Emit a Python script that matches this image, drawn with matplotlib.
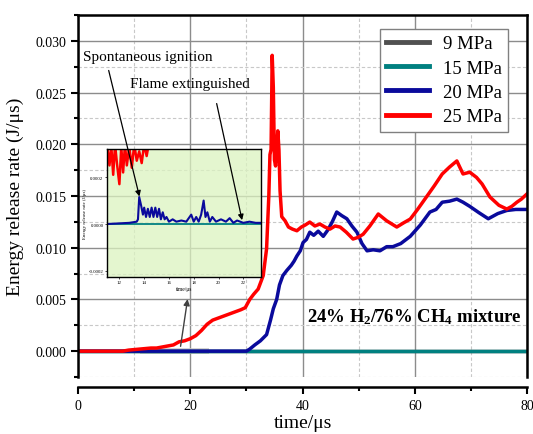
import matplotlib
matplotlib.use("Agg")
import matplotlib.pyplot as plt
from matplotlib.patches import Rectangle
from matplotlib.ticker import MultipleLocator

plt.rcParams['font.family'] = ['Liberation Serif', 'DejaVu Serif']
plt.rcParams['mathtext.fontset'] = 'custom'
plt.rcParams['mathtext.rm'] = 'Liberation Serif'
plt.rcParams['mathtext.bf'] = 'Liberation Serif:bold'
plt.rcParams['mathtext.it'] = 'Liberation Serif:italic'

# ---------------- data ----------------
labels = ['9 MPa', '15 MPa', '20 MPa', '25 MPa']
colors = ['#505050', '#008080', '#0a0a9c', '#ff0000']

x_9 = [0, 80]
y_9 = [0, 0]
x_15 = [0, 80]
y_15 = [0, 0]

x_20 = [0, 9, 30, 30.6, 31.5, 32.5, 33.6, 34.3, 34.8, 35.4, 35.9, 36.5, 37.2, 38, 38.5, 39,
        39.6, 40.1, 40.7, 41.3, 42, 42.8, 43.7, 44.5, 45.3, 46.1, 47, 47.9, 48.8, 49.7, 50.6,
        51.5, 52.6, 53.8, 55, 56.1, 57.5, 59.2, 61, 62.7, 63.8, 64.9, 66.2, 67.5, 68.6, 69.8,
        71.4, 73.1, 74.8, 76.4, 78, 79.3, 80]
y_20 = [0, 0, 0, 0.0002, 0.0006, 0.0010, 0.0016, 0.0030, 0.0041, 0.0050, 0.0064, 0.0073, 0.0078,
        0.0083, 0.0087, 0.0092, 0.0097, 0.0105, 0.0108, 0.0115, 0.0112, 0.0116, 0.0111, 0.0117,
        0.0125, 0.01345, 0.0131, 0.0128, 0.0121, 0.0115, 0.0104, 0.0097, 0.0098, 0.0097, 0.0101,
        0.0101, 0.0104, 0.0111, 0.0122, 0.01345, 0.0137, 0.0144, 0.0145, 0.0147, 0.0144, 0.0140,
        0.0134, 0.0128, 0.0133, 0.0136, 0.0137, 0.0137, 0.0137]

x_25 = [0, 8, 8.5, 9, 10, 11, 12, 13, 14, 15, 16, 17, 18, 19, 20, 21, 22, 23, 24, 25, 26, 27,
        28, 29, 29.8, 30.6, 31.3, 32.1, 33, 33.6, 34.0, 34.2, 34.4, 34.6, 34.8, 35.0, 35.2,
        35.4, 35.6, 35.8, 36.0, 36.3, 36.9, 37.5, 38.2, 39.0, 39.8, 40.5, 41.3, 42.2, 43.1,
        44, 44.9, 45.8, 46.7, 47.8, 49.0, 49.9, 50.8, 52, 53.5, 55, 56.8, 58, 59.2, 60.5, 62.2,
        63.5, 64.9, 66.2, 67.5, 68.6, 69.8, 71, 72, 73.4, 75, 76.4, 77.3, 78.2, 79, 80]
y_25 = [0, 0, 0.00005, 0.0001, 0.00015, 0.0002, 0.00025, 0.0003, 0.0003, 0.0004, 0.0005,
        0.0006, 0.0009, 0.001, 0.0012, 0.0015, 0.002, 0.0026, 0.003, 0.0032, 0.0034, 0.0036,
        0.0038, 0.004, 0.0042, 0.005, 0.0055, 0.006, 0.0073, 0.0099, 0.015, 0.019, 0.0195,
        0.0286, 0.0255, 0.0185, 0.0179, 0.0195, 0.0213, 0.0195, 0.0155, 0.0130, 0.0126, 0.0120,
        0.0118, 0.01164, 0.0120, 0.0122, 0.01248, 0.0121, 0.01229, 0.0120, 0.0118, 0.0121,
        0.0120, 0.0115, 0.01084, 0.0110, 0.0113, 0.0121, 0.01326, 0.0126, 0.0120, 0.0124,
        0.01277, 0.0137, 0.0150, 0.0160, 0.01713, 0.0178, 0.01839, 0.01713, 0.0173, 0.0168,
        0.01616, 0.0149, 0.0141, 0.01374, 0.0140, 0.0144, 0.0147, 0.0152]

# inset (zoom of 11-23.4 us)
xi_20 = [11.0, 12.8, 13.4, 13.5, 13.6, 13.75, 13.9, 14.0, 14.15, 14.3, 14.45, 14.6, 14.75, 14.9,
         15.05, 15.2, 15.35, 15.5, 15.65, 15.8, 16.0, 16.3, 16.6, 17.0, 17.4, 17.8, 18.0, 18.2,
         18.4, 18.6, 18.8, 18.95, 19.1, 19.3, 19.5, 19.8, 20.2, 20.6, 20.9, 21.2, 21.5, 22,
         22.5, 23, 23.4]
yi_20 = [0, 0.000005, 0.00001, 0.00002, 0.000115, 0.00008, 0.00004, 0.00007, 0.00003, 0.000065,
         0.00003, 0.00007, 0.00003, 0.00007, 0.00003, 0.000065, 0.00002, 0.00005, 0.00002,
         0.00003, 0.00001, 0.00002, 0.00001, 0.000015, 0.00001, 0.00004, 0.00001, 0.00003,
         0.00001, 0.00004, 0.0001, 0.00003, 0.00005, 0.00001, 0.00003, 0.00001, 0.00002,
         0.00001, 0.000025, 0.000005, 0.000015, 0.000005, 0.00001, 0.000005, 0.000005]
xi_25 = [11.0, 11.2, 11.35, 11.5, 11.65, 11.8, 12.0, 12.15, 12.3, 12.45, 12.6, 12.8, 13.0, 13.2,
         13.4, 13.6, 13.8, 14.0, 14.2, 14.4, 15.0]
yi_25 = [0.00035, 0.00025, 0.00033, 0.00021, 0.00034, 0.00026, 0.00017, 0.00033, 0.00022,
         0.00034, 0.00025, 0.00033, 0.00024, 0.00034, 0.00027, 0.00031, 0.00026, 0.00034,
         0.00029, 0.00035, 0.0004]

# ---------------- figure ----------------
fig = plt.figure(figsize=(5.33, 4.35), dpi=100)
ax = fig.add_axes([78/533, 1-378/435, 449/533, 362/435])

series = [(x_9, y_9), (x_15, y_15), (x_20, y_20), (x_25, y_25)]
for (xs, ys), c, lab in zip(series, colors, labels):
    ax.plot(xs, ys, color=c, lw=2.5, label=lab, solid_joinstyle='round')

ax.set_xlim(0, 80)
ax.set_ylim(-0.0025, 0.0325)
ax.xaxis.set_major_locator(MultipleLocator(20))
ax.xaxis.set_minor_locator(MultipleLocator(10))
ax.yaxis.set_major_locator(MultipleLocator(0.005))
ax.yaxis.set_minor_locator(MultipleLocator(0.0025))
ax.yaxis.set_major_formatter(matplotlib.ticker.FormatStrFormatter('%.3f'))
ax.grid(True, which='major', color='#8c8c8c', lw=1.0, ls='-')
ax.grid(True, which='minor', color='#c8c8c8', lw=0.8, ls=(0, (3, 2)))
ax.set_axisbelow(True)
for s in ax.spines.values():
    s.set_linewidth(1.8)
ax.spines['bottom'].set_position(('outward', 7))
ax.tick_params(which='major', direction='out', length=5, width=1.5, labelsize=10)
ax.tick_params(which='minor', direction='out', length=3, width=1.5)
ax.set_xlabel('time/μs', fontsize=14, labelpad=2)
ax.set_ylabel('Energy release rate (J/μs)', fontsize=14, labelpad=8)

leg = ax.legend(loc='upper right', bbox_to_anchor=(0.958, 0.962),
                prop={'family': 'Liberation Serif', 'size': 13.5},
                frameon=True, fancybox=False, edgecolor='#808080', framealpha=1,
                handlelength=2.3, handletextpad=0.7, labelspacing=0.38, borderpad=0.35,
                borderaxespad=0)
leg.get_frame().set_linewidth(1.0)
for h in leg.get_lines():
    h.set_linewidth(3.5)

ax.text(40.8, 0.0034, r'24% H$_\mathbf{2}$/76% CH$_\mathbf{4}$ mixture', fontsize=13.5,
        fontweight='bold', va='center', ha='left')

# zoom region indicator and arrow
ax.add_patch(Rectangle((11, -0.00023), 12.4, 0.00055, facecolor='#c8c8c8', edgecolor='none',
                       alpha=0.8, zorder=1.5))
ax.annotate('', xy=(19.6, 0.0053), xytext=(18.2, 0.0002),
            arrowprops=dict(arrowstyle='-|>', color='#404040', lw=1.0, mutation_scale=9))

ax.text(0.9, 0.0285, 'Spontaneous ignition', fontsize=11, va='center', ha='left')
ax.text(9.3, 0.0259, 'Flame extinguished', fontsize=11, va='center', ha='left')

# ---------------- inset ----------------
axi = fig.add_axes([107/533, 1-278/435, 154/533, 128/435])
axi.patch.set_facecolor('#dcf3c0')
axi.patch.set_alpha(0.75)
axi.plot(x_15, y_15, color=colors[1], lw=1.3)
axi.plot(xi_20, yi_20, color=colors[2], lw=1.5)
axi.plot(xi_25, yi_25, color=colors[3], lw=1.8)
axi.set_xlim(11.0, 23.43)
axi.set_ylim(-0.000226, 0.00032)
axi.xaxis.set_major_locator(MultipleLocator(2))
axi.yaxis.set_major_locator(MultipleLocator(0.0002))
axi.yaxis.set_major_formatter(matplotlib.ticker.FormatStrFormatter('%.4f'))
axi.tick_params(labelsize=3.5, length=1.5, width=0.5, pad=1)
for s in axi.spines.values():
    s.set_linewidth(1.0)
axi.set_xlabel('time/μs', fontsize=4, labelpad=1)
axi.set_ylabel('Energy release rate (J/μs)', fontsize=3.5, labelpad=1)

axi.annotate('', xy=(13.67, 0.000106), xycoords='data', xytext=(5.35, 0.0274),
             textcoords=ax.transData, annotation_clip=False,
             arrowprops=dict(arrowstyle='-|>', color='black', lw=0.9, mutation_scale=8))
axi.annotate('', xy=(21.95, 0.000005), xycoords='data', xytext=(24.6, 0.0242),
             textcoords=ax.transData, annotation_clip=False,
             arrowprops=dict(arrowstyle='-|>', color='black', lw=0.9, mutation_scale=8))

fig.savefig('out.png', dpi=100)
